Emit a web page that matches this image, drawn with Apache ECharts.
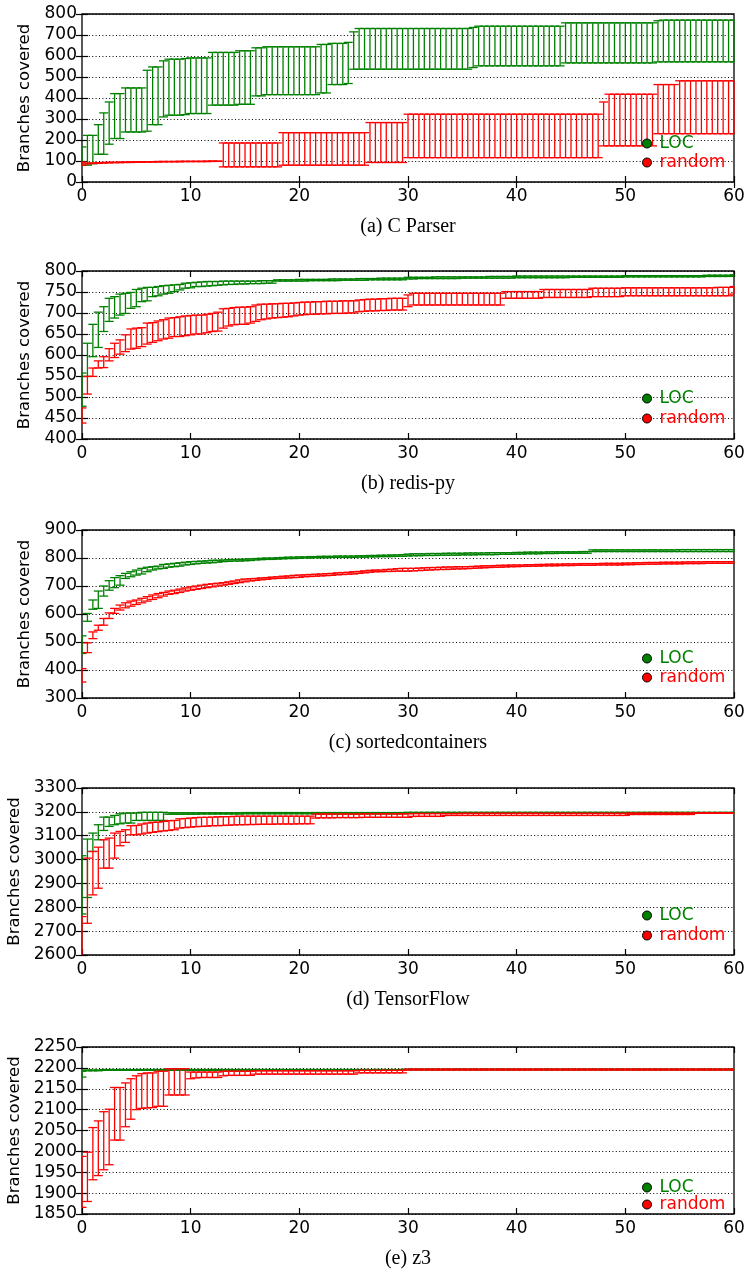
<!DOCTYPE html>
<html><head><meta charset="utf-8">
<script src="https://cdn.jsdelivr.net/npm/echarts@6/dist/echarts.min.js"></script>
<style>html,body{margin:0;padding:0;background:#fff}#c{width:747px;height:1278px}</style>
</head><body><div id="c"></div>
<script>
// sample times (minutes)
const XS = [0,0.5,1,1.5,2,2.5,3,3.5,4,4.5,5,5.5,6,6.5,7,7.5,8,8.5,9,9.5,
10,10.5,11,11.5,12,12.5,13,13.5,14,14.5,15,15.5,16,16.5,17,17.5,18,18.5,19,19.5,
20,20.5,21,21.5,22,22.5,23,23.5,24,24.5,25,25.5,26,26.5,27,27.5,28,28.5,29,29.5,
30,30.5,31,31.5,32,32.5,33,33.5,34,34.5,35,35.5,36,36.5,37,37.5,38,38.5,39,39.5,
40,40.5,41,41.5,42,42.5,43,43.5,44,44.5,45,45.5,46,46.5,47,47.5,48,48.5,49,49.5,
50,50.5,51,51.5,52,52.5,53,53.5,54,54.5,55,55.5,56,56.5,57,57.5,58,58.5,59,59.5,60];
const X_TICKS = [0,10,20,30,40,50,60];

// (a) C Parser
const aLocLo = [79,80,87,132,132,180,207,207,238,238, 238,238,242,273,273,310,318,318,318,321,
326,326,326,326,366,366,366,366,366,370, 370,370,410,410,416,416,416,416,416,416,
416,416,416,416,424,424,464,464,464,469, 537,537,537,537,537,537,537,537,537,537,
537,537,537,537,537,537,537,537,537,537, 537,537,545,553,553,553,553,553,553,553,
553,553,553,553,553,553,553,553,553,567, 567,567,567,567,567,567,567,567,567,567,
567,567,567,567,567,567,572,572,572,572, 572,572,572,572,572,572,572,572,572,572, 572];
const aLocHi = [167,222,222,273,329,381,421,421,448,448, 448,448,532,548,548,577,585,585,585,588,
591,591,591,591,617,617,617,617,617,625, 625,625,639,639,644,644,644,644,644,644,
644,644,644,644,655,655,660,660,660,665, 715,731,731,731,731,731,731,731,731,731,
731,731,731,731,731,731,731,731,731,731, 731,731,736,742,742,742,742,742,742,742,
742,742,742,742,742,742,742,742,742,758, 758,758,758,758,758,758,758,758,758,758,
758,758,758,758,758,758,768,771,771,771, 771,771,771,771,771,771,771,771,771,771, 771];
const aRndLo = [80,86,88,89,90,91,92,92,93,93, 94,94,95,95,95,96,96,96,96,97,
97,97,97,97,98,98,72,72,72,72, 72,72,72,72,72,72,72,80,80,80,
80,80,80,80,80,80,80,80,80,80, 80,80,80,93,93,93,93,93,93,93,
116,116,116,116,116,116,116,116,116,116, 116,116,116,116,116,116,116,116,116,116,
116,116,116,116,116,116,116,116,116,116, 116,116,116,116,116,116,172,172,172,172,
172,172,172,172,172,172,230,230,230,230, 230,230,230,230,230,230,230,230,230,230, 230];
const aRndHi = [95,90,91,92,93,94,94,95,95,96, 96,97,97,97,98,98,98,98,99,99,
99,99,99,100,100,100,186,186,186,186, 186,186,186,186,186,186,186,235,235,235,
235,235,235,235,235,235,235,235,235,235, 235,235,235,283,283,283,283,283,283,283,
323,323,323,323,323,323,323,323,323,323, 323,323,323,323,323,323,323,323,323,323,
323,323,323,323,323,323,323,323,323,323, 323,323,323,323,323,323,381,418,418,418,
418,418,418,418,418,418,464,464,464,464, 482,482,482,482,482,482,482,482,482,482, 482];

// (b) redis-py
const bLocLo = [478,549,596,618,656,680,688,695,699,711, 715,727,729,739,741,745,747,751,755,759,
760,763,763,764,765,766,767,768,768,769, 769,770,770,770,771,771,776,776,776,776,
776,776,777,777,777,777,777,777,778,778, 778,778,778,779,779,779,779,779,779,779,
781,781,782,782,782,782,782,782,782,782, 783,783,783,783,783,783,783,783,783,783,
784,784,784,784,784,784,784,784,784,784, 785,785,785,785,785,785,785,785,785,785,
786,786,786,786,786,786,786,786,786,786, 786,786,786,786,786,787,787,787,787,787, 788];
const bLocHi = [557,628,673,702,715,735,739,745,747,749, 756,759,761,761,763,765,766,767,768,771,
772,773,774,775,775,775,776,776,776,776, 776,776,776,777,777,777,779,779,779,779,
780,780,780,780,780,780,781,781,781,781, 781,782,782,782,782,783,783,783,783,783,
785,785,785,785,785,786,786,786,786,786, 786,786,786,786,786,787,787,787,787,787,
788,788,788,788,788,788,788,788,788,788, 788,788,788,788,788,788,788,788,788,788,
789,789,789,789,789,789,789,789,789,789, 789,789,789,789,789,790,790,790,790,790, 791];
const bRndLo = [438,507,549,569,570,586,594,602,608,614, 616,620,626,630,634,638,640,644,644,646,
648,650,650,653,656,657,664,669,672,673, 673,676,680,684,686,688,689,690,691,693,
695,696,697,697,698,698,699,699,699,700, 700,703,704,705,705,706,706,707,707,707,
715,719,719,719,719,719,719,719,719,719, 719,719,719,719,719,719,719,719,735,735,
735,735,735,735,735,737,737,737,737,737, 737,737,737,737,739,739,739,739,739,739,
741,741,741,741,741,741,741,741,741,741, 741,741,741,741,741,741,741,741,741,741, 745];
const bRndHi = [474,549,569,586,596,615,628,636,648,662, 664,665,676,677,681,684,688,689,691,693,
694,695,695,697,699,702,710,711,713,714, 714,715,719,721,721,722,722,723,723,724,
725,726,726,727,727,728,728,728,729,729, 729,731,732,733,733,734,734,735,735,735,
743,747,747,747,747,747,747,747,747,747, 747,747,747,747,747,747,747,747,751,751,
751,751,751,751,751,756,756,756,756,756, 756,756,756,756,759,759,759,759,759,759,
760,760,760,760,760,760,760,760,760,760, 760,760,760,760,760,760,760,761,761,761, 763];

// (c) sortedcontainers
const cLocLo = [459,574,617,620,664,685,694,703,727,733, 739,743,751,757,761,763,767,769,771,775,
777,779,781,782,783,785,787,788,789,789, 790,791,793,794,795,795,796,797,798,798,
799,800,800,801,801,801,802,802,802,802, 802,803,803,804,804,805,805,805,806,806,
807,808,808,809,809,809,810,810,810,810, 811,811,811,812,812,812,812,813,813,813,
814,814,815,815,815,816,816,816,817,817, 817,817,817,817,823,823,823,823,823,823,
823,823,823,823,823,823,823,823,823,823, 823,823,823,823,823,823,823,823,823,823, 823];
const cLocHi = [522,602,650,682,700,719,730,737,745,751, 757,763,767,769,771,777,779,781,783,785,
787,788,789,790,792,792,793,794,795,795, 796,797,798,799,800,800,801,802,803,803,
804,804,805,805,806,806,806,807,807,807, 807,808,808,809,809,810,810,811,811,812,
814,815,815,815,816,816,816,817,817,817, 817,818,818,818,818,819,819,819,819,819,
820,820,821,821,821,821,822,822,822,822, 822,822,823,823,829,829,829,829,829,829,
829,829,829,829,829,829,829,829,829,829, 830,830,830,830,830,830,830,830,830,830, 830];
const cRndLo = [357,462,512,542,560,584,602,614,622,628, 634,640,646,652,658,664,670,673,677,682,
685,688,691,694,697,700,703,706,709,712, 715,718,720,722,724,726,727,728,729,730,
731,733,734,735,736,737,738,740,741,742, 743,745,747,749,751,751,752,752,753,753,
753,754,755,756,757,758,759,759,760,761, 761,762,763,764,765,766,767,767,768,769,
769,770,770,771,771,772,772,772,773,773, 773,774,774,774,774,775,775,775,775,775,
776,776,777,777,778,778,778,779,779,779, 779,780,780,780,780,781,781,781,781,781, 781];
const cRndHi = [405,497,536,560,584,604,620,632,640,646, 650,656,662,668,673,677,682,685,689,693,
697,700,703,706,708,710,712,715,718,722, 725,726,727,729,730,732,733,735,736,738,
739,740,741,742,743,744,745,747,748,749, 751,752,754,756,757,757,759,760,762,763,
763,763,764,765,766,766,767,768,768,769, 769,769,770,771,772,772,773,774,774,775,
775,775,776,776,777,777,778,778,778,779, 779,779,780,780,780,780,781,781,781,781,
782,782,783,783,784,784,784,785,785,785, 785,786,786,786,786,787,787,787,787,787, 787];

// (d) TensorFlow
const dLocLo = [2772,2841,3034,3083,3122,3139,3146,3150,3153,3153, 3164,3164,3164,3164,3164,3164,3190,3190,3190,3190,
3190,3190,3191,3191,3191,3191,3191,3191,3191,3191, 3192,3192,3192,3192,3192,3192,3192,3192,3192,3192,
3192,3192,3192,3192,3192,3192,3192,3192,3192,3192, 3192,3192,3192,3192,3192,3192,3192,3192,3192,3192,
3194,3194,3194,3194,3194,3194,3194,3194,3194,3194, 3194,3194,3194,3194,3194,3194,3194,3194,3194,3194,
3194,3194,3194,3194,3194,3194,3194,3194,3194,3194, 3194,3194,3194,3194,3194,3194,3194,3194,3194,3194,
3194,3194,3194,3194,3194,3194,3194,3194,3194,3194, 3194,3194,3194,3194,3194,3194,3194,3194,3194,3194, 3194];
const dLocHi = [3016,3086,3111,3146,3178,3178,3185,3192,3195,3195, 3195,3198,3198,3198,3198,3198,3196,3196,3196,3196,
3196,3196,3196,3196,3196,3196,3196,3196,3196,3196, 3197,3197,3197,3197,3197,3197,3197,3197,3197,3197,
3197,3197,3197,3197,3197,3197,3197,3197,3197,3197, 3197,3197,3197,3197,3197,3197,3197,3197,3197,3197,
3198,3198,3198,3198,3198,3198,3198,3198,3198,3198, 3198,3198,3198,3198,3198,3198,3198,3198,3198,3198,
3198,3198,3198,3198,3198,3198,3198,3198,3198,3198, 3198,3198,3198,3198,3198,3198,3198,3198,3198,3198,
3198,3198,3198,3198,3198,3198,3198,3198,3198,3198, 3198,3198,3198,3198,3198,3198,3198,3198,3198,3198, 3198];
const dRndLo = [2560,2733,2852,2880,2964,2964,3006,3058,3072,3104, 3104,3107,3111,3114,3117,3120,3122,3125,3132,3134,
3136,3138,3139,3140,3142,3142,3143,3144,3145,3146, 3146,3147,3147,3148,3148,3148,3149,3149,3149,3149,
3150,3150,3150,3174,3175,3175,3175,3176,3176,3176, 3176,3176,3177,3177,3177,3177,3177,3177,3177,3177,
3177,3181,3181,3181,3181,3181,3181,3185,3185,3185, 3185,3185,3185,3185,3185,3185,3185,3185,3185,3185,
3185,3185,3185,3185,3185,3185,3185,3185,3185,3185, 3185,3185,3185,3185,3185,3185,3185,3185,3185,3185,
3185,3189,3189,3189,3189,3189,3189,3189,3189,3189, 3189,3189,3189,3194,3194,3194,3194,3194,3194,3194, 3194];
const dRndHi = [2761,3006,3034,3052,3083,3090,3111,3118,3125,3142, 3143,3149,3153,3156,3157,3160,3163,3164,3171,3172,
3174,3176,3177,3177,3178,3179,3180,3180,3181,3182, 3182,3182,3182,3182,3182,3182,3182,3182,3182,3182,
3182,3182,3182,3191,3191,3191,3191,3191,3191,3191, 3191,3191,3192,3192,3192,3192,3192,3192,3192,3192,
3192,3193,3193,3193,3193,3193,3193,3193,3193,3193, 3194,3194,3194,3194,3194,3194,3194,3194,3194,3194,
3194,3194,3194,3194,3194,3194,3194,3194,3194,3194, 3194,3194,3194,3194,3194,3194,3194,3194,3194,3194,
3194,3195,3195,3195,3195,3195,3195,3195,3195,3195, 3195,3195,3195,3196,3196,3196,3196,3196,3196,3196, 3196];

// (e) z3
const eLocLo = [2178,2193,2193,2193,2194,2194,2194,2194,2194,2194, 2194,2194,2194,2194,2194,2194,2194,2194,2194,2194,
2194,2194,2194,2194,2194,2194,2194,2194,2194,2194, 2194,2194,2194,2194,2194,2194,2194,2194,2194,2194,
2194,2194,2194,2194,2194,2194,2194,2194,2194,2194, 2194,2194,2194,2194,2194,2194,2194,2194,2194,2194,
2195,2195,2195,2195,2195,2195,2195,2195,2195,2195, 2195,2195,2195,2195,2195,2195,2195,2195,2195,2195,
2195,2195,2195,2195,2195,2195,2195,2195,2195,2195, 2195,2195,2195,2195,2195,2195,2195,2195,2195,2195,
2195,2195,2195,2195,2195,2195,2195,2195,2195,2195, 2195,2195,2195,2195,2195,2195,2195,2195,2195,2195, 2195];
const eLocHi = [2192,2195,2195,2195,2196,2196,2196,2196,2196,2196, 2196,2196,2196,2196,2196,2196,2196,2196,2196,2196,
2196,2196,2196,2196,2196,2196,2196,2196,2196,2196, 2196,2196,2196,2196,2196,2196,2196,2196,2196,2196,
2196,2196,2196,2196,2196,2196,2196,2196,2196,2196, 2196,2196,2196,2196,2196,2196,2196,2196,2196,2196,
2197,2197,2197,2197,2197,2197,2197,2197,2197,2197, 2197,2197,2197,2197,2197,2197,2197,2197,2197,2197,
2197,2197,2197,2197,2197,2197,2197,2197,2197,2197, 2197,2197,2197,2197,2197,2197,2197,2197,2197,2197,
2197,2197,2197,2197,2197,2197,2197,2197,2197,2197, 2197,2197,2197,2197,2197,2197,2197,2197,2197,2197, 2197];
const eRndLo = [1866,1880,1932,1942,1956,1968,2027,2027,2059,2077, 2100,2103,2104,2105,2108,2108,2135,2135,2135,2135,
2174,2176,2177,2177,2177,2177,2181,2182,2182,2182, 2182,2182,2185,2185,2185,2185,2185,2185,2185,2185,
2185,2185,2185,2185,2185,2185,2185,2185,2185,2185, 2185,2188,2188,2188,2188,2188,2188,2188,2188,2188,
2195,2195,2195,2195,2195,2195,2195,2195,2195,2195, 2195,2195,2195,2195,2195,2195,2195,2195,2195,2195,
2195,2195,2195,2195,2195,2195,2195,2195,2195,2195, 2195,2195,2195,2195,2195,2195,2195,2195,2195,2195,
2195,2195,2195,2195,2195,2195,2195,2195,2195,2195, 2195,2195,2195,2195,2195,2195,2195,2195,2195,2195, 2195];
const eRndHi = [1988,1998,2057,2073,2095,2101,2153,2153,2164,2174, 2181,2186,2188,2188,2192,2192,2198,2198,2198,2198,
2190,2190,2190,2190,2190,2190,2192,2192,2192,2192, 2192,2192,2193,2193,2193,2193,2193,2193,2193,2193,
2193,2193,2193,2193,2193,2193,2193,2193,2193,2193, 2193,2194,2194,2194,2194,2194,2194,2194,2194,2194,
2197,2197,2197,2197,2197,2197,2197,2197,2197,2197, 2197,2197,2197,2197,2197,2197,2197,2197,2197,2197,
2197,2197,2197,2197,2197,2197,2197,2197,2197,2197, 2197,2197,2197,2197,2197,2197,2197,2197,2197,2197,
2197,2197,2197,2197,2197,2197,2197,2197,2197,2197, 2197,2197,2197,2197,2197,2197,2197,2197,2197,2197, 2197];

const CAPTIONS = ['(a) C Parser','(b) redis-py','(c) sortedcontainers','(d) TensorFlow','(e) z3'];
const Y_MIN = [0,400,300,2600,1850];
const Y_MAX = [800,800,900,3300,2250];
const Y_STEP = [100,50,100,100,50];
const SERIES_NAMES = ['LOC','random'];
const DATA = [
  [[aLocLo,aLocHi],[aRndLo,aRndHi]],
  [[bLocLo,bLocHi],[bRndLo,bRndHi]],
  [[cLocLo,cLocHi],[cRndLo,cRndHi]],
  [[dLocLo,dLocHi],[dRndLo,dRndHi]],
  [[eLocLo,eLocHi],[eRndLo,eRndHi]]
];

// layout (pixels)
const LAYOUT = [
  {top:14, h:168, capY:228, legTop:135, legGap:2, nameGap:47},
  {top:271, h:168, capY:485, legTop:390, legGap:3, nameGap:47},
  {top:530, h:168, capY:744, legTop:650, legGap:2, nameGap:47},
  {top:788, h:167, capY:1001, legTop:907, legGap:3, nameGap:58},
  {top:1047, h:167, capY:1260, legTop:1179, legGap:0, nameGap:58}
];
const COLORS = ['#008000','#ff0000'];
const FONT = 'DejaVu Sans';

function makeRender(color){
  const style = {stroke: color, lineWidth: 1.3, fill: null};
  return function(params, api){
    const x = api.value(0), lo = api.value(1), hi = api.value(2);
    const cs = params.coordSys;
    const p1 = api.coord([x, lo]), p2 = api.coord([x, hi]);
    const yTop = cs.y, yBot = cs.y + cs.height, xL = cs.x, xR = cs.x + cs.width;
    const cl = v => Math.max(yTop, Math.min(yBot, v));
    const cw = 4.5;
    const children = [{type:'line', shape:{x1:p1[0], y1:cl(p1[1]), x2:p2[0], y2:cl(p2[1])}, style}];
    [p1, p2].forEach(p => {
      if (p[1] >= yTop - 0.5 && p[1] <= yBot + 0.5) {
        children.push({type:'line', shape:{x1:Math.max(xL, p[0]-cw), y1:p[1], x2:Math.min(xR, p[0]+cw), y2:p[1]}, style});
      }
    });
    return {type:'group', children};
  };
}

const grid = [], xAxis = [], yAxis = [], series = [], title = [], legend = [];
LAYOUT.forEach((L, k) => {
  grid.push({left:82, right:13, top:L.top, height:L.h, show:true, borderColor:'#000', borderWidth:1.3,
    backgroundColor:'transparent', outerBoundsMode:'none', containLabel:false});
  const axLab = {color:'#000', fontFamily:FONT, fontSize:17};
  const tick = {show:true, inside:true, length:6, lineStyle:{color:'#000', width:1.2}};
  xAxis.push({type:'value', gridIndex:k, min:0, max:60, interval:10, position:'bottom',
    axisLine:{show:false}, axisTick:tick,
    axisLabel:Object.assign({margin:6, formatter: v => String(v)}, axLab), splitLine:{show:false}});
  xAxis.push({type:'value', gridIndex:k, min:0, max:60, interval:10, position:'top',
    axisLine:{show:false}, axisTick:tick, axisLabel:{show:false}, splitLine:{show:false}});
  yAxis.push({type:'value', gridIndex:k, min:Y_MIN[k], max:Y_MAX[k], interval:Y_STEP[k], position:'left',
    name:'Branches covered', nameLocation:'middle', nameGap:L.nameGap,
    nameTextStyle:{color:'#000', fontFamily:FONT, fontSize:16.5},
    axisLine:{show:false}, axisTick:tick,
    axisLabel:Object.assign({margin:5, formatter: v => String(v)}, axLab),
    splitLine:{show:true, lineStyle:{color:'#000', width:1, type:[1,2.4]}}});
  yAxis.push({type:'value', gridIndex:k, min:Y_MIN[k], max:Y_MAX[k], interval:Y_STEP[k], position:'right',
    axisLine:{show:false}, axisTick:tick, axisLabel:{show:false}, splitLine:{show:false}});
  DATA[k].forEach((pair, s) => {
    series.push({type:'custom', name:SERIES_NAMES[s], xAxisIndex:2*k, yAxisIndex:2*k,
      renderItem: makeRender(COLORS[s]), silent:true, z: 2 + s,
      itemStyle:{color:COLORS[s]},
      encode:{x:0, y:[1,2]},
      data: XS.map((x, i) => [x, pair[0][i], pair[1][i]])});
  });
  title.push({text:CAPTIONS[k], left:408, top:L.capY - 11, textAlign:'center', padding:0,
    textStyle:{fontFamily:'Liberation Serif', fontSize:20, fontWeight:'normal', color:'#000'}});
  legend.push({orient:'vertical', left:642, top:L.legTop, itemGap:L.legGap, itemWidth:9, itemHeight:9, padding:0,
    selectedMode:false,
    textStyle:{fontFamily:FONT, fontSize:17, padding:[0,0,0,3]},
    data: SERIES_NAMES.map((n, s) => ({name:n, icon:'circle',
      itemStyle:{color:COLORS[s], borderColor:'#000', borderWidth:1},
      textStyle:{color:COLORS[s]}}))});
});

const chart = echarts.init(document.getElementById('c'), null, {renderer:'canvas'});
chart.setOption({animation:false, backgroundColor:'#fff', grid, xAxis, yAxis, series, title, legend});
</script></body></html>
